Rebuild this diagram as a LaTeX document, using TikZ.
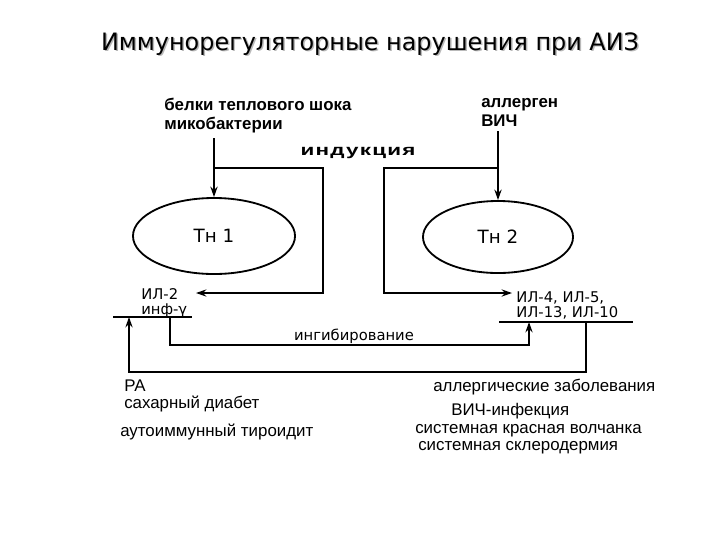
\documentclass[tikz,border=0pt]{standalone}
\usepackage{fontspec}
\setmainfont{DejaVu Sans}
\newfontfamily\arialfont{Liberation Sans}
\newfontfamily\widefont[FakeStretch=1.45, LetterSpace=8]{Liberation Sans}
\usetikzlibrary{arrows.meta, positioning, shapes.geometric}

\begin{document}
\begin{tikzpicture}[x=0.025cm, y=-0.025cm,
  line/.style={line width=1.3pt},
  arr/.style={-{Stealth[length=2.6mm, width=1.8mm]}, line width=1.3pt},
  cell/.style={ellipse, draw, line width=1.3pt, font=\fontsize{13}{15}\selectfont},
  lbl/.style={inner sep=0pt, align=left, font=\fontsize{10.5}{11}\selectfont},
  src/.style={inner sep=0pt, align=left, font=\arialfont\bfseries\fontsize{12}{13.5}\selectfont},
  dis/.style={inner sep=0pt, anchor=west, font=\arialfont\fontsize{12}{13}\selectfont}
]
\useasboundingbox (0,0) rectangle (720,540);
\node (titleshadow) [text=gray!55, font=\fontsize{17}{20}\selectfont] at (371.5,45.5) {Иммунорегуляторные нарушения при АИЗ};
\node (title) [font=\fontsize{17}{20}\selectfont] at (370,44) {Иммунорегуляторные нарушения при АИЗ};

\node (bact) [src, anchor=north west] at (164,98) {белки теплового шока\\микобактерии};
\node (allerg) [src, anchor=north west] at (481,98) {аллерген\\ВИЧ};
\node (induct) [font=\widefont\bfseries\fontsize{11}{13}\selectfont] at (358,153) {индукция};

\node (th1) [cell, minimum width=4.05cm, minimum height=1.9cm] at (214,236) {Тн 1};
\node (th2) [cell, minimum width=3.75cm, minimum height=1.8cm] at (498,237) {Тн 2};

\node (il2) [lbl, anchor=north west] at (141,288) {ИЛ-2\\инф-γ};
\node (il4) [lbl, anchor=north west] at (516,291) {ИЛ-4, ИЛ-5,\\ИЛ-13, ИЛ-10};
\node (inhib) [lbl] at (354,336) {ингибирование};

\coordinate (bar1w) at (113,317);
\coordinate (bar1e) at (192,317);
\coordinate (bar2w) at (499,322);
\coordinate (bar2e) at (633,322);
\draw[line] (bar1w) -- (bar1e);
\draw[line] (bar2w) -- (bar2e);

% induction
\coordinate (indL) at (323,168);
\coordinate (indR) at (384,168);
\coordinate (th1out) at (196,293);
\coordinate (th2out) at (512,293);
\draw[arr, shorten <=1.2mm] (th1.north |- bact.south) -- (th1.north);
\draw[arr, shorten <=1.2mm] (th2.north |- allerg.south) -- (th2.north);
\draw[arr] (th1.north |- indL) -| (indL |- th1out) -- (th1out);
\draw[arr] (th2.north |- indR) -| (indR |- th2out) -- (th2out);

% inhibition and feedback
\coordinate (inhL) at (170,317);
\coordinate (inhB) at (350,345);
\coordinate (inhR) at (529,322);
\draw[arr] (inhL) |- (inhB) -| (inhR);
\coordinate (fbR) at (586,322);
\coordinate (fbB) at (350,372);
\coordinate (fbL) at (129,317);
\draw[arr] (fbR) |- (fbB) -| (fbL);

\node (ra) [dis] at (124,386) {РА};
\node (diab) [dis] at (124,404) {сахарный диабет};
\node (thyr) [dis] at (120,432) {аутоиммунный тироидит};
\node (allergd) [dis] at (433,387) {аллергические заболевания};
\node (hiv) [dis] at (451,411) {ВИЧ-инфекция};
\node (sle) [dis] at (415,431) {системная красная волчанка};
\node (ssd) [dis] at (418,448) {системная склеродермия};
\end{tikzpicture}
\end{document}
